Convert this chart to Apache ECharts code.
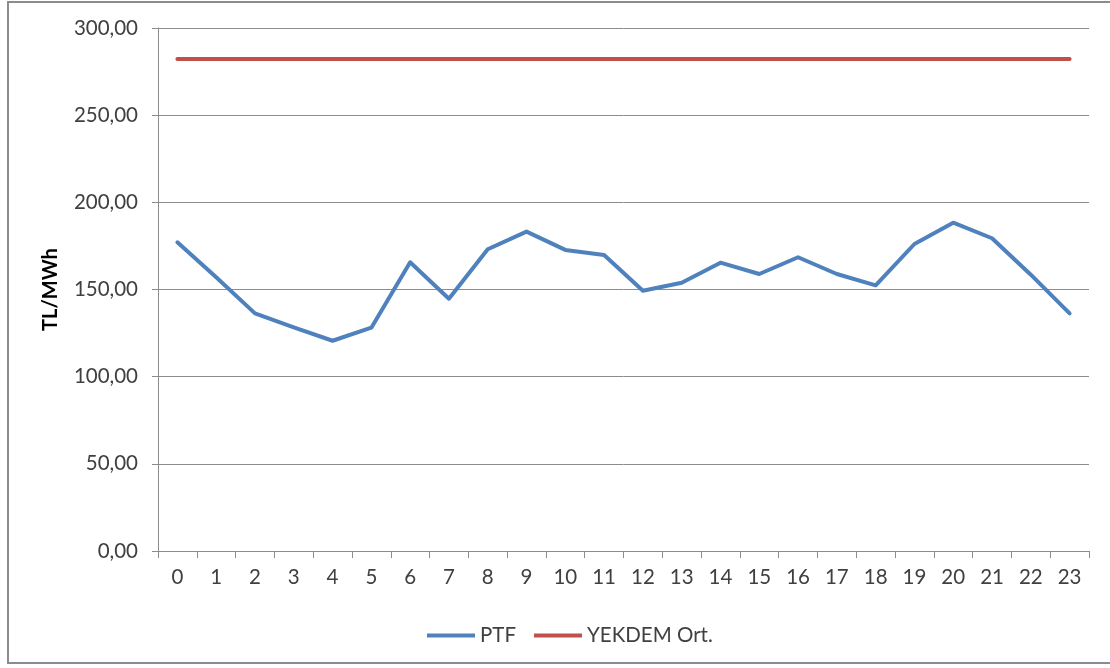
<!DOCTYPE html>
<html>
<head>
<meta charset="utf-8">
<script src="https://cdn.jsdelivr.net/npm/echarts@6/dist/echarts.min.js"></script>
<style>
  html, body { margin: 0; padding: 0; background: #fff; overflow: hidden; }
  #frame { position: absolute; left: 7px; top: 1px; width: 1110px; height: 663px; border: 2px solid #8c8c8c; box-sizing: border-box; }
  #chart { position: absolute; left: 0; top: 0; width: 1110px; height: 668px; }
</style>
</head>
<body>
<div id="frame"></div>
<div id="chart"></div>
<script>
// Hours of the day
const hours = ['0','1','2','3','4','5','6','7','8','9','10','11','12','13','14','15','16','17','18','19','20','21','22','23'];
// Hourly market clearing price (TL/MWh)
const ptf = [177.1, 157.0, 136.3, 128.3, 120.6, 128.1, 165.6, 144.7, 173.1, 183.2, 172.7, 169.8,
             149.3, 153.9, 165.4, 158.9, 168.5, 158.9, 152.4, 176.1, 188.3, 179.4, 158.5, 136.3];
// YEKDEM average (TL/MWh)
const yekdem = [282.2, 282.2, 282.2, 282.2, 282.2, 282.2, 282.2, 282.2, 282.2, 282.2, 282.2, 282.2,
                282.2, 282.2, 282.2, 282.2, 282.2, 282.2, 282.2, 282.2, 282.2, 282.2, 282.2, 282.2];
const seriesNames = ['PTF', 'YEKDEM Ort.'];
const yAxisName = 'TL/MWh';

const font = 'Lato, "Open Sans", sans-serif';
const chart = echarts.init(document.getElementById('chart'), null, { renderer: 'canvas' });
chart.setOption({
  animation: false,
  textStyle: { fontFamily: font },
  grid: { left: 158, right: 21, top: 28, bottom: 117, containLabel: false },
  legend: {
    left: 422, top: 620,
    itemWidth: 48, itemHeight: 4, itemGap: 18,
    textStyle: { fontFamily: font, fontSize: 20.5, color: '#404040' },
    data: [
      { name: seriesNames[0], icon: 'rect' },
      { name: seriesNames[1], icon: 'rect' }
    ]
  },
  xAxis: {
    type: 'category',
    data: hours,
    boundaryGap: true,
    axisLine: { lineStyle: { color: '#8c8c8c', width: 1 } },
    axisTick: { show: true, length: 7, lineStyle: { color: '#8c8c8c' } },
    axisLabel: { fontFamily: font, fontSize: 20.5, color: '#404040', margin: 16 },
    splitLine: { show: false }
  },
  yAxis: {
    type: 'value',
    min: 0, max: 300, interval: 50,
    name: yAxisName,
    nameLocation: 'middle',
    nameRotate: 90,
    nameGap: 97,
    nameTextStyle: { fontFamily: font, fontSize: 20, fontWeight: 'bold', color: '#000' },
    axisLine: { show: true, lineStyle: { color: '#8c8c8c', width: 1 } },
    axisTick: { show: true, length: 6, lineStyle: { color: '#8c8c8c' } },
    axisLabel: {
      fontFamily: font, fontSize: 20.5, color: '#404040', margin: 20,
      formatter: v => v.toFixed(2).replace('.', ',')
    },
    splitLine: { show: true, lineStyle: { color: '#8c8c8c', width: 1 } }
  },
  series: [
    {
      name: seriesNames[0], type: 'line', data: ptf,
      symbol: 'none', smooth: false,
      lineStyle: { color: '#4F81BD', width: 4, join: 'round', cap: 'round' },
      itemStyle: { color: '#4F81BD' }
    },
    {
      name: seriesNames[1], type: 'line', data: yekdem,
      symbol: 'none',
      lineStyle: { color: '#C0504D', width: 4, cap: 'round' },
      itemStyle: { color: '#C0504D' }
    }
  ]
});
</script>
</body>
</html>
